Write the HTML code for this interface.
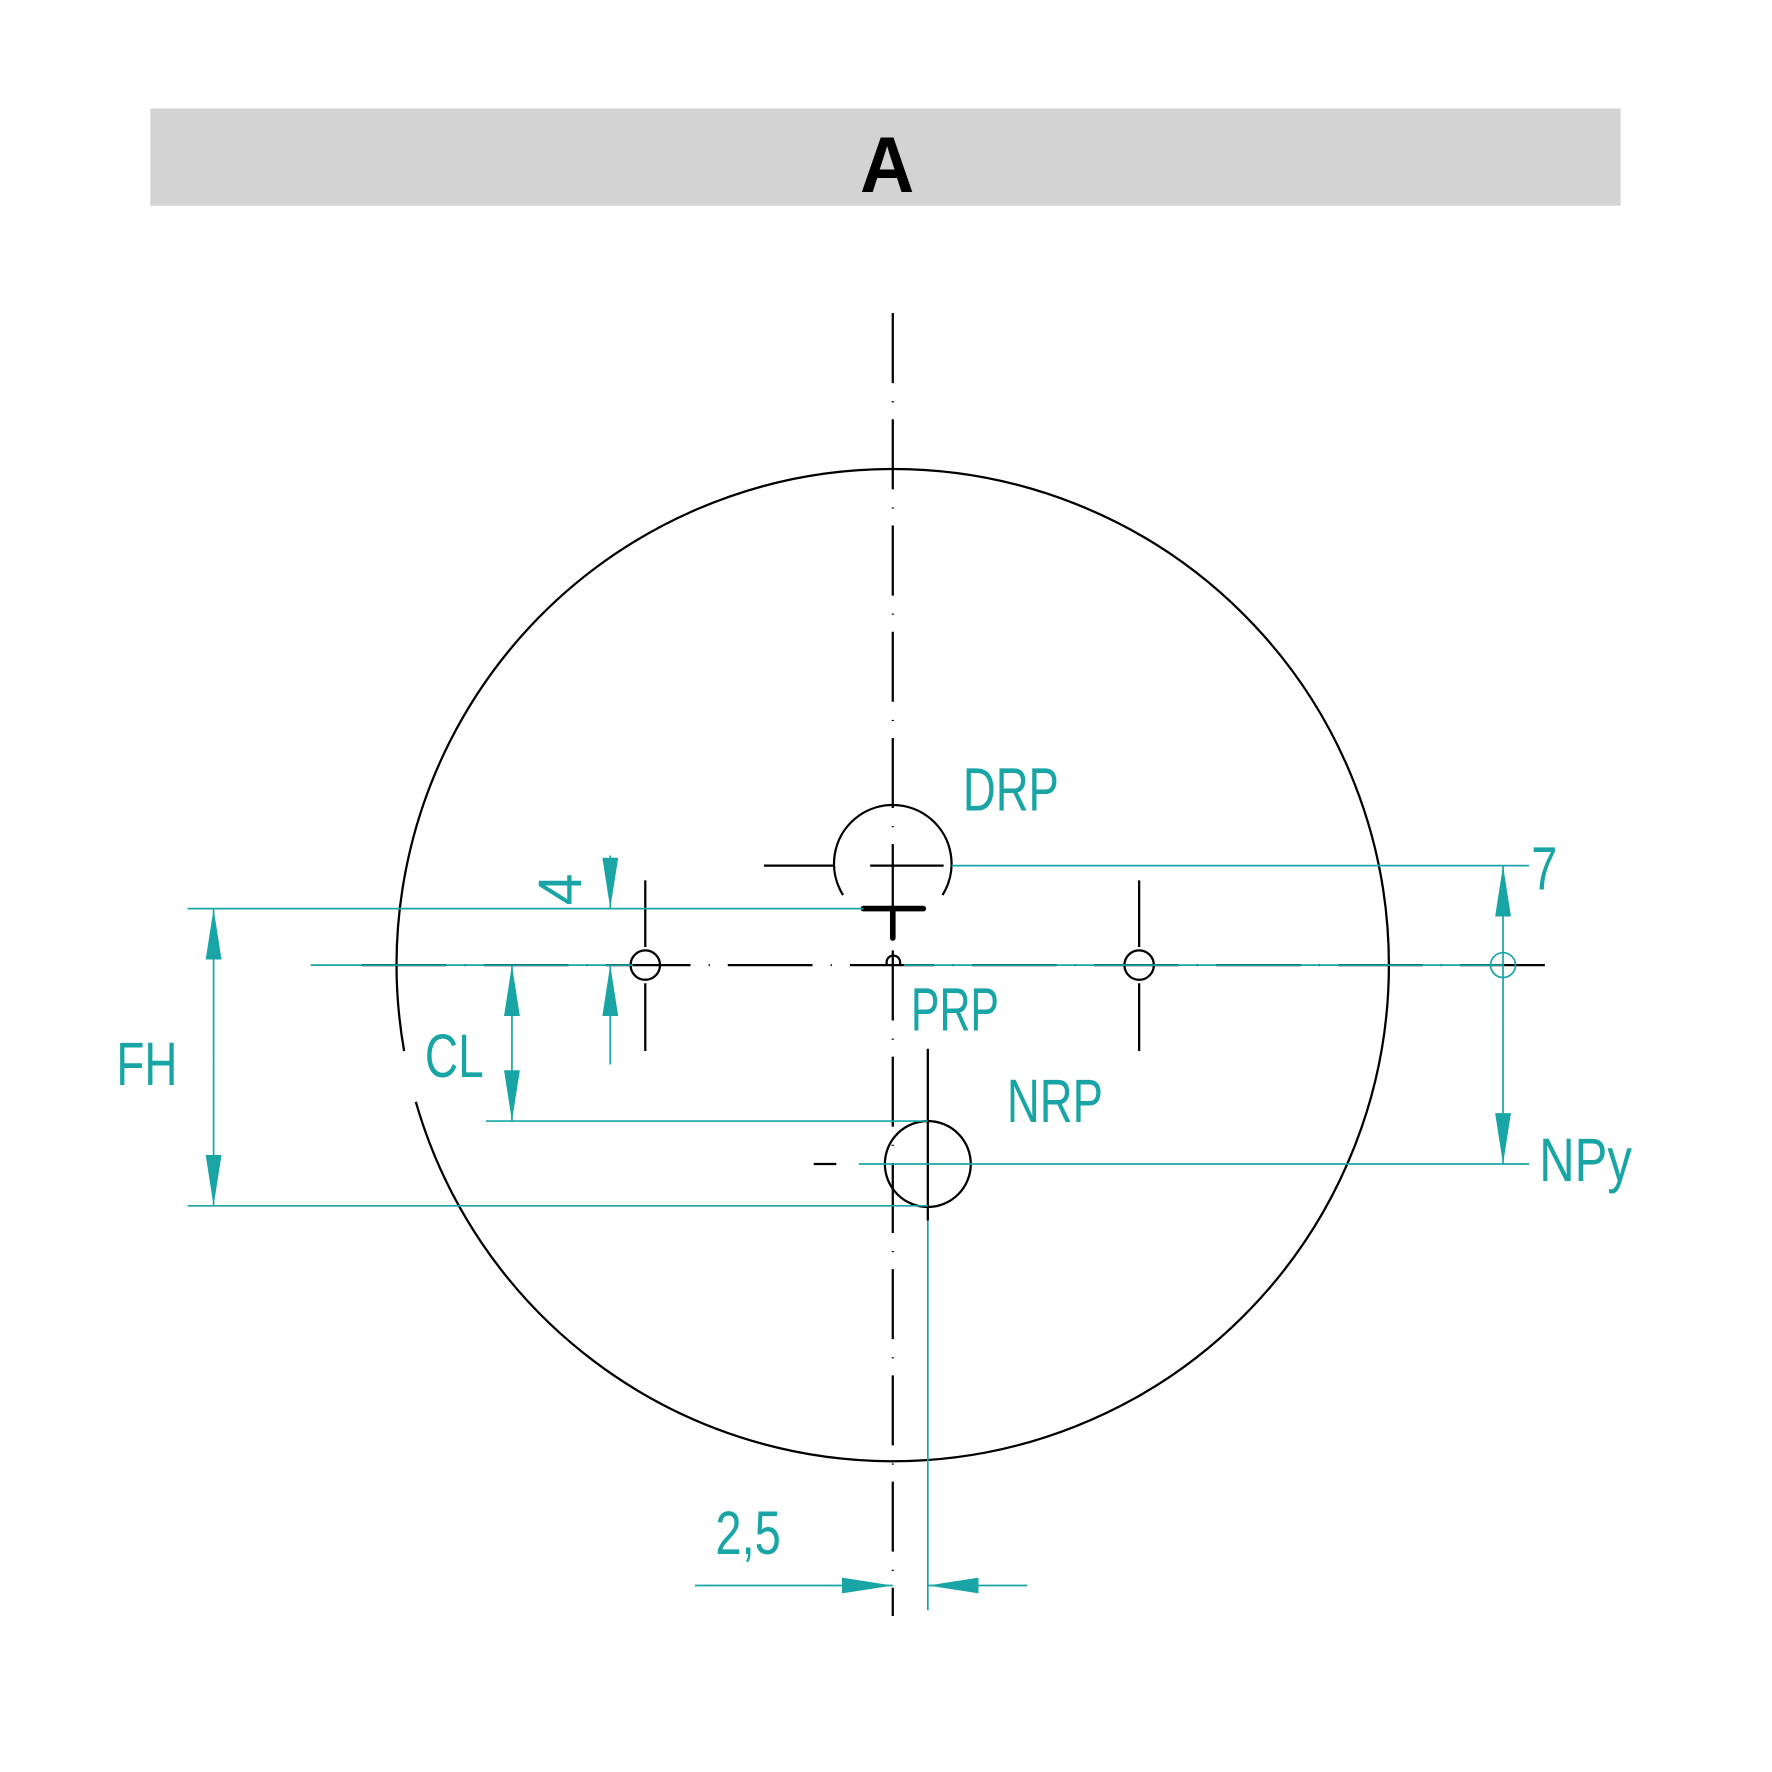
<!DOCTYPE html>
<html><head><meta charset="utf-8"><style>html,body{margin:0;padding:0;background:#fff}svg{display:block}</style></head><body>
<svg width="1772" height="1772" viewBox="0 0 1568 1568" xmlns="http://www.w3.org/2000/svg">
<defs>
<marker id="a" viewBox="0 0 45 14" refX="45" refY="7" markerWidth="45" markerHeight="14" markerUnits="userSpaceOnUse" orient="auto"><path d="M0,0 L45,7 L0,14 Z" fill="#19a5a5"/></marker>
</defs>
<rect x="133" y="96" width="1301" height="86" fill="#d3d3d3"/>
<text x="785" y="170" font-family="Liberation Sans, sans-serif" font-weight="bold" font-size="70" text-anchor="middle" fill="#000" textLength="48" lengthAdjust="spacingAndGlyphs">A</text>
<g fill="none" stroke="#000" stroke-width="2">
<path d="M357.6,930 A439,439 0 0 1 790,415 A439,439 0 0 1 1229,854 A439,439 0 0 1 790,1293 A439,439 0 0 1 367.95,975" />
<line x1="790" y1="277" x2="790" y2="1430" stroke-dasharray="62 16 1 15"/>
<line x1="320" y1="854" x2="1367" y2="854" stroke-dasharray="75 16 1 16"/>
<circle cx="571" cy="854" r="13"/>
<line x1="571" y1="779" x2="571" y2="838"/><line x1="571" y1="870" x2="571" y2="930"/>
<circle cx="1008" cy="854" r="13"/>
<line x1="1008" y1="779" x2="1008" y2="838"/><line x1="1008" y1="870" x2="1008" y2="930"/>
<path d="M785,854 A6,6 0 1 1 796,854"/>
<path d="M746,792 A52,52 0 1 1 834,792"/>
<line x1="676" y1="766" x2="738" y2="766"/><line x1="770" y1="766" x2="835" y2="766"/>
<circle cx="821" cy="1030" r="38"/>
<line x1="821" y1="928" x2="821" y2="1080"/>
<line x1="720" y1="1030" x2="740" y2="1030"/>
</g>
<g stroke="#000" stroke-width="5" stroke-linecap="round"><line x1="764" y1="804" x2="817" y2="804"/><line x1="790" y1="804" x2="790" y2="830"/></g>
<g fill="none" stroke="#19a5a5" stroke-width="1.5">
<line x1="842" y1="766" x2="1353" y2="766"/>
<line x1="166" y1="804" x2="764" y2="804"/>
<line x1="275" y1="854" x2="560" y2="854"/><line x1="800" y1="854" x2="1330" y2="854"/>
<line x1="430" y1="992" x2="821" y2="992"/>
<line x1="760" y1="1030" x2="1353" y2="1030"/>
<line x1="166" y1="1067" x2="821" y2="1067"/>
<line x1="821" y1="1080" x2="821" y2="1425"/>
<line x1="189" y1="935" x2="189" y2="804" marker-end="url(#a)"/>
<line x1="189" y1="935" x2="189" y2="1067" marker-end="url(#a)"/>
<line x1="453" y1="920" x2="453" y2="854" marker-end="url(#a)"/>
<line x1="453" y1="920" x2="453" y2="992" marker-end="url(#a)"/>
<line x1="540" y1="757" x2="540" y2="804" marker-end="url(#a)"/>
<line x1="540" y1="942" x2="540" y2="854" marker-end="url(#a)"/>
<line x1="1330" y1="900" x2="1330" y2="766" marker-end="url(#a)"/>
<line x1="1330" y1="900" x2="1330" y2="1030" marker-end="url(#a)"/>
<circle cx="1330" cy="854" r="11"/>
<line x1="615" y1="1403" x2="790" y2="1403" marker-end="url(#a)"/>
<line x1="909" y1="1403" x2="821" y2="1403" marker-end="url(#a)"/>
</g>
<g font-family="Liberation Sans, sans-serif" font-size="54" fill="#19a5a5">
<text x="852" y="717" textLength="85" lengthAdjust="spacingAndGlyphs">DRP</text>
<text x="806" y="912" textLength="78" lengthAdjust="spacingAndGlyphs">PRP</text>
<text x="891" y="993" textLength="85" lengthAdjust="spacingAndGlyphs">NRP</text>
<text x="376" y="953" textLength="52" lengthAdjust="spacingAndGlyphs">CL</text>
<text x="103" y="960" textLength="54" lengthAdjust="spacingAndGlyphs">FH</text>
<text x="1362" y="1045" textLength="82" lengthAdjust="spacingAndGlyphs">NPy</text>
<text x="1355" y="787" textLength="23" lengthAdjust="spacingAndGlyphs">7</text>
<text x="633" y="1375" textLength="58" lengthAdjust="spacingAndGlyphs">2,5</text>
<text transform="translate(514,801) rotate(-90)" textLength="28" lengthAdjust="spacingAndGlyphs">4</text>
</g>
</svg>
</body></html>
